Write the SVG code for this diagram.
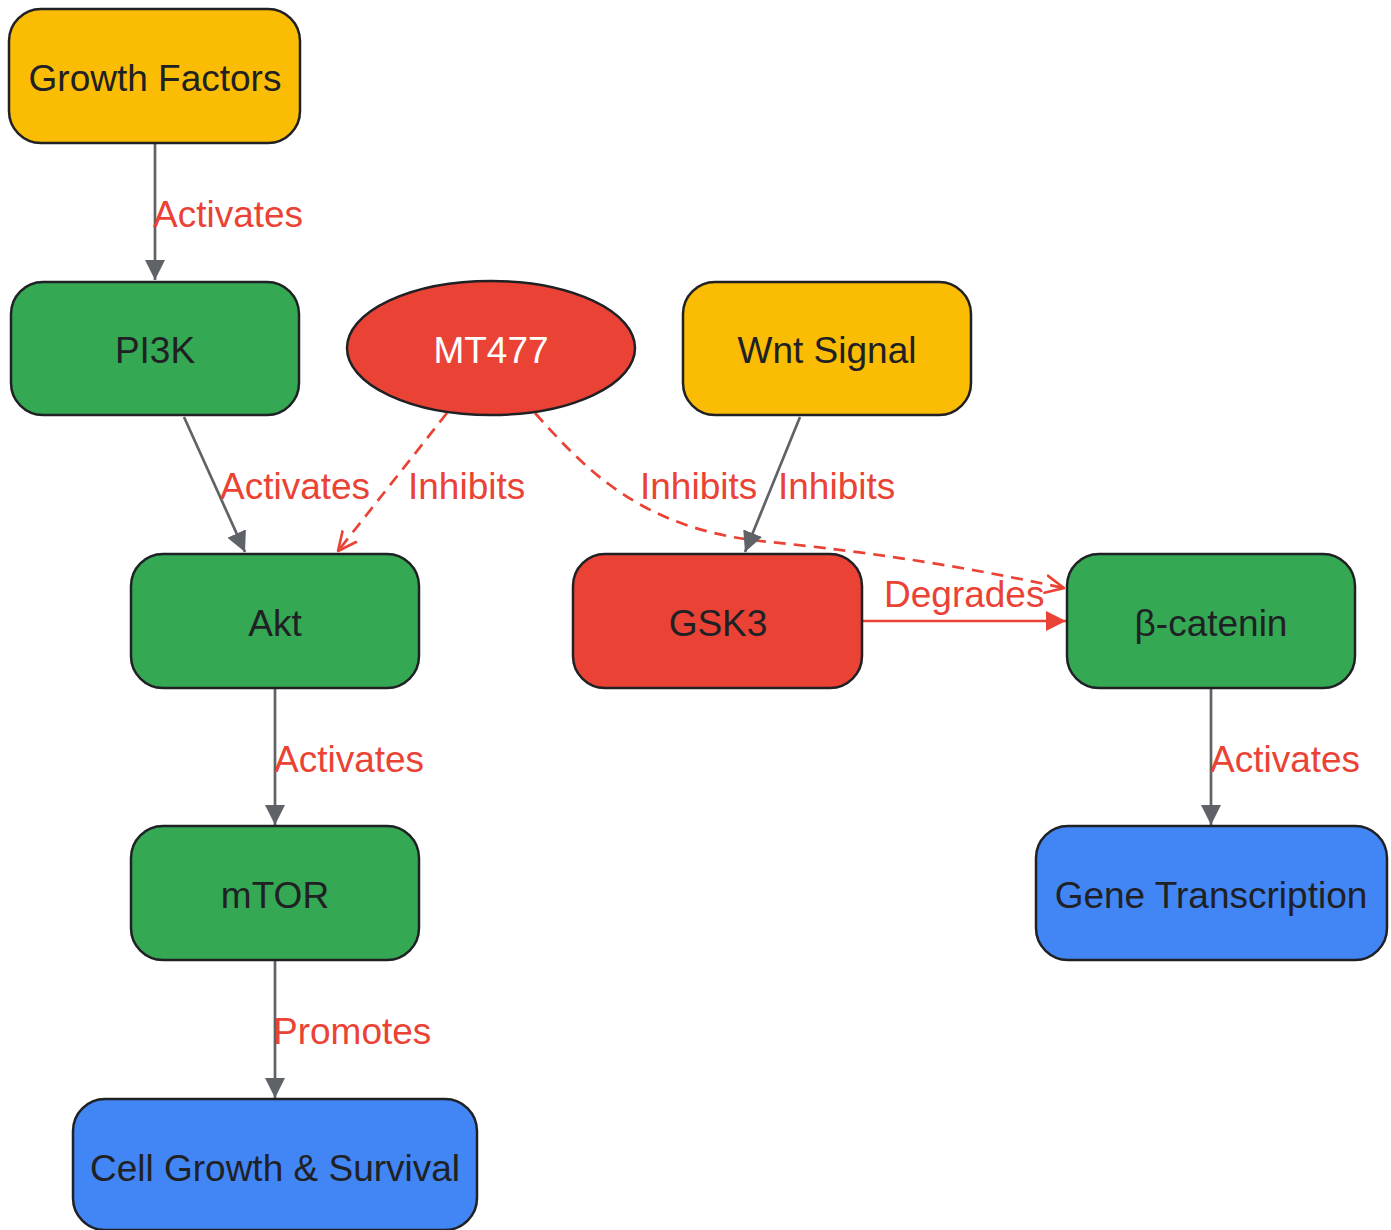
<svg xmlns="http://www.w3.org/2000/svg" width="1391" height="1230" viewBox="0 0 1391 1230">
<style>
.node{stroke:#202124;stroke-width:2.5}
.yellow{fill:#fbbc04}.green{fill:#34a853}.red{fill:#ea4335}.blue{fill:#4285f4}
.nt{font-family:"Liberation Sans",Arial,sans-serif;font-size:37px;fill:#202124;text-anchor:middle}
.white{fill:#ffffff}
.lbl{font-family:"Liberation Sans",Arial,sans-serif;font-size:37px;fill:#ea4335}
.g{stroke:#5f6368;stroke-width:2.7;fill:none}
.r{stroke:#ea4335;stroke-width:2.7;fill:none}
.d{stroke-dasharray:12,8}
</style>
<defs>
<marker id="ag" viewBox="0 0 10 10" refX="10" refY="5" markerWidth="7.5" markerHeight="7.5" markerUnits="strokeWidth" orient="auto"><path d="M0,0 L10,5 L0,10 z" fill="#5f6368"/></marker>
<marker id="ar" viewBox="0 0 10 10" refX="10" refY="5" markerWidth="7.5" markerHeight="7.5" markerUnits="strokeWidth" orient="auto"><path d="M0,0 L10,5 L0,10 z" fill="#ea4335"/></marker>
<marker id="ao" viewBox="0 0 10 10" refX="9.5" refY="5" markerWidth="7.5" markerHeight="7.5" markerUnits="strokeWidth" orient="auto"><path d="M0,0.5 L9.5,5 L0,9.5" fill="none" stroke="#ea4335" stroke-width="1.3"/></marker>
</defs>
<g id="connectors">
<path class="g" d="M155,143 L155,280" marker-end="url(#ag)"/>
<path class="g" d="M184,417 L245,552" marker-end="url(#ag)"/>
<path class="r d" d="M447,413 L338,551" marker-end="url(#ao)"/>
<path class="r d" d="M535,413 C590,475 645,528 760,541 C880,553 965,567 1064,588" marker-end="url(#ao)"/>
<path class="g" d="M800,417 L745,552" marker-end="url(#ag)"/>
<path class="r" d="M862,621 L1066,621" marker-end="url(#ar)"/>
<path class="g" d="M275,688 L275,825" marker-end="url(#ag)"/>
<path class="g" d="M1211,688 L1211,825" marker-end="url(#ag)"/>
<path class="g" d="M275,960 L275,1098" marker-end="url(#ag)"/>
<text class="lbl" x="153" y="227">Activates</text>
<text class="lbl" x="220" y="499">Activates</text>
<text class="lbl" x="408" y="499">Inhibits</text>
<text class="lbl" x="640" y="499">Inhibits</text>
<text class="lbl" x="778" y="499">Inhibits</text>
<text class="lbl" x="884" y="607">Degrades</text>
<text class="lbl" x="274" y="772">Activates</text>
<text class="lbl" x="1210" y="772">Activates</text>
<text class="lbl" x="273" y="1044">Promotes</text>
</g>
<g id="growth-factors"><rect class="node yellow" x="9" y="9" width="291" height="134" rx="32"/><text class="nt" x="155" y="91">Growth Factors</text></g>
<g id="pi3k"><rect class="node green" x="11" y="282" width="288" height="133" rx="32"/><text class="nt" x="155" y="363">PI3K</text></g>
<g id="mt477"><ellipse class="node red" cx="491" cy="348" rx="144" ry="67"/><text class="nt white" x="491" y="363">MT477</text></g>
<g id="wnt"><rect class="node yellow" x="683" y="282" width="288" height="133" rx="32"/><text class="nt" x="827" y="363">Wnt Signal</text></g>
<g id="akt"><rect class="node green" x="131" y="554" width="288" height="134" rx="32"/><text class="nt" x="275" y="636">Akt</text></g>
<g id="gsk3"><rect class="node red" x="573" y="554" width="289" height="134" rx="32"/><text class="nt" x="718" y="636">GSK3</text></g>
<g id="beta-catenin"><rect class="node green" x="1067" y="554" width="288" height="134" rx="32"/><text class="nt" x="1211" y="636">β-catenin</text></g>
<g id="mtor"><rect class="node green" x="131" y="826" width="288" height="134" rx="32"/><text class="nt" x="275" y="908">mTOR</text></g>
<g id="gene-transcription"><rect class="node blue" x="1036" y="826" width="351" height="134" rx="32"/><text class="nt" x="1211" y="908">Gene Transcription</text></g>
<g id="cell-growth"><rect class="node blue" x="73" y="1099" width="404" height="131" rx="32"/><text class="nt" x="275" y="1181">Cell Growth &amp; Survival</text></g>
</svg>
